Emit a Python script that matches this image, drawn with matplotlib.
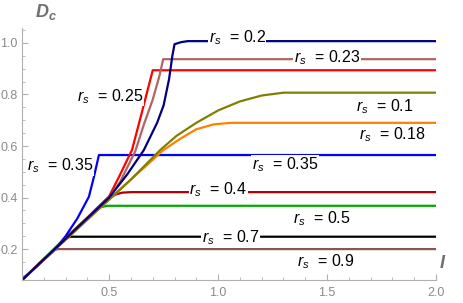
import numpy as np
import matplotlib
matplotlib.use("Agg")
import matplotlib.pyplot as plt
from matplotlib.ticker import MultipleLocator

plt.rcParams['font.family'] = ['Liberation Sans', 'DejaVu Sans']
plt.rcParams['mathtext.fontset'] = 'custom'
plt.rcParams['mathtext.rm'] = 'Liberation Sans'
plt.rcParams['mathtext.it'] = 'Liberation Sans:italic'
plt.rcParams['mathtext.bf'] = 'Liberation Sans:bold:italic'

# curves: (I values, Dc values) per r_s
rs_02_x = [0.1, 0.3, 0.5, 0.583, 0.659, 0.72, 0.75, 0.775, 0.79, 0.80, 0.83, 0.86, 2.0]
rs_02_y = [0.08, 0.24, 0.40, 0.49, 0.584, 0.69, 0.758, 0.86, 0.95, 0.995, 1.003, 1.007, 1.007]

rs_023_x = [0.1, 0.3, 0.5, 0.55, 0.62, 0.66, 0.70, 0.73, 0.748, 2.0]
rs_023_y = [0.08, 0.24, 0.40, 0.46, 0.58, 0.685, 0.78, 0.87, 0.937, 0.937]

rs_025_x = [0.1, 0.3, 0.5, 0.545, 0.605, 0.65, 0.70, 2.0]
rs_025_y = [0.08, 0.24, 0.405, 0.48, 0.585, 0.73, 0.894, 0.894]

rs_01_x = [0.1, 0.4, 0.6, 0.735, 0.81, 0.9, 1.0, 1.1, 1.2, 1.3, 2.0]
rs_01_y = [0.08, 0.315, 0.47, 0.585, 0.64, 0.69, 0.738, 0.773, 0.796, 0.807, 0.807]

rs_018_x = [0.1, 0.6, 0.75, 0.83, 0.9, 0.98, 1.06, 2.0]
rs_018_y = [0.08, 0.47, 0.585, 0.63, 0.665, 0.684, 0.69, 0.69]

rs_035_x = [0.1, 0.25, 0.3, 0.354, 0.407, 0.43, 0.453, 2.0]
rs_035_y = [0.08, 0.197, 0.25, 0.319, 0.403, 0.48, 0.565, 0.565]

rs_04_x = [0.1, 0.45, 0.5, 0.53, 0.56, 0.6, 2.0]
rs_04_y = [0.08, 0.36, 0.397, 0.412, 0.419, 0.421, 0.421]

rs_05_x = [0.1, 0.3, 0.4, 0.46, 0.49, 2.0]
rs_05_y = [0.08, 0.245, 0.322, 0.362, 0.368, 0.368]

rs_07_x = [0.1, 0.3, 0.32, 2.0]
rs_07_y = [0.08, 0.24, 0.248, 0.248]

rs_09_x = [0.1, 0.245, 0.265, 2.0]
rs_09_y = [0.08, 0.195, 0.2, 0.2]

curves = [
    (rs_09_x, rs_09_y, "#8c5550"),
    (rs_07_x, rs_07_y, "#000000"),
    (rs_05_x, rs_05_y, "#00aa00"),
    (rs_04_x, rs_04_y, "#b00000"),
    (rs_035_x, rs_035_y, "#0000ff"),
    (rs_018_x, rs_018_y, "#ff8000"),
    (rs_01_x, rs_01_y, "#808000"),
    (rs_025_x, rs_025_y, "#ff0000"),
    (rs_023_x, rs_023_y, "#b06464"),
    (rs_02_x, rs_02_y, "#000080"),
]

labels = ["0.2", "0.23", "0.25", "0.1", "0.18", "0.35", "0.35", "0.4", "0.5", "0.7", "0.9"]
label_x = [1.088, 1.50, 0.506, 1.766, 1.80, 0.277, 1.307, 1.0, 1.477, 1.056, 1.495]
label_y = [1.022, 0.944, 0.793, 0.751, 0.646, 0.522, 0.526, 0.429, 0.32, 0.243, 0.15]

fig = plt.figure(figsize=(4.63, 3.03), dpi=100)
ax = fig.add_axes([22 / 463, 23 / 303, (436 - 22) / 463, (280 - 28) / 303])

for xs, ys, c in curves:
    ax.plot(xs, ys, color=c, lw=1.6, solid_joinstyle='round')

for lab, lx, ly in zip(labels, label_x, label_y):
    ax.text(lx, ly, r"$r_s$  = " + lab, fontsize=11.5, ha='center', va='center',
            bbox=dict(facecolor='white', edgecolor='none', pad=0.3), zorder=5)

ax.set_xlim(0.1, 2.0)
ax.set_ylim(0.08, 1.058)
for s in ['top', 'right']:
    ax.spines[s].set_visible(False)
for s in ['left', 'bottom']:
    ax.spines[s].set_color('#b0b0b0')
ax.xaxis.set_minor_locator(MultipleLocator(0.1))
ax.yaxis.set_minor_locator(MultipleLocator(0.05))
ax.set_xticks([0.5, 1.0, 1.5, 2.0])
ax.set_yticks([0.2, 0.4, 0.6, 0.8, 1.0])
ax.tick_params(which='both', direction='in', color='#b0b0b0', labelcolor='#8a8a8a', labelsize=9)
ax.tick_params(which='major', length=4)
ax.tick_params(which='minor', length=2)
ax.tick_params(axis='x', pad=5)
ax.tick_params(axis='y', pad=3)

fig.text(35 / 463, 1 - 12 / 303, r"$\mathbf{D_c}$", fontsize=13, color='#707070', ha='left', va='center')
fig.text(443 / 463, 1 - 263 / 303, r"$\mathbf{I}$", fontsize=13, color='#707070', ha='center', va='center')

fig.savefig("out.png", dpi=100)
